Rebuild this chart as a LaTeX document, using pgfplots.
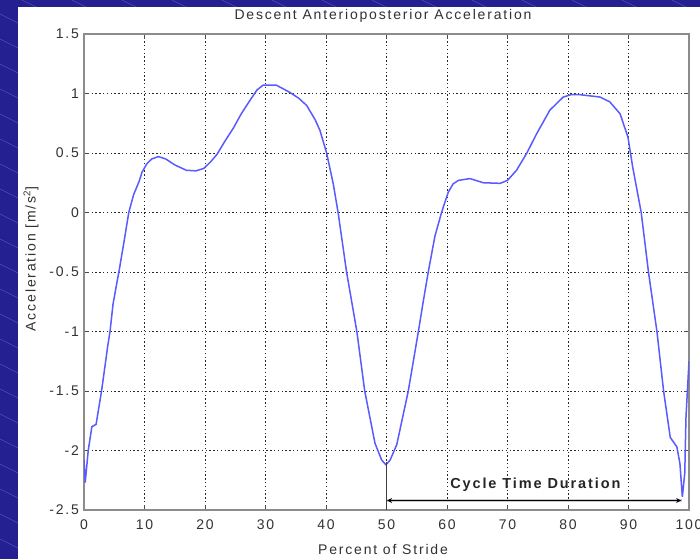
\documentclass[border=0pt]{standalone}
\usepackage{fontspec}
\setmainfont{Liberation Sans}[LetterSpace=13]
\usepackage{pgfplots}
\pgfplotsset{compat=1.18}
\usetikzlibrary{arrows.meta}
\definecolor{bgblue}{RGB}{36,32,146}
\definecolor{stripe}{RGB}{95,95,200}
\definecolor{curve}{RGB}{90,90,255}
\definecolor{txt}{RGB}{50,50,50}
\begin{document}
\begin{tikzpicture}
\useasboundingbox (0,0) rectangle (700bp,559bp);
\begin{scope}[x=1bp,y=1bp]
\fill[bgblue] (0,0) rectangle (700,559);
\begin{scope}
\clip (0,0) rectangle (18,559) (0,552) rectangle (700,559);
\foreach \i in {0,...,60} { \draw[stripe, line width=0.35bp] (-10, 25*\i) -- (1390, 25*\i-700); }
\end{scope}
\fill[white] (18,-5) rectangle (705,552);
\node[txt, font=\fontsize{14bp}{16bp}\selectfont] at (383,543) {Descent Anterioposterior Acceleration};
\node[txt, font=\fontsize{14bp}{16bp}\selectfont] at (383,10) {Percent of Stride};
\node[txt, rotate=90, font=\fontsize{14bp}{16bp}\selectfont] at (31,300) {Acceleration [m/s\textsuperscript{2}]};
\end{scope}
\begin{axis}[
  at={(84bp,49bp)}, anchor=south west,
  width=605bp, height=476bp, scale only axis,
  xmin=0, xmax=100, ymin=-2.5, ymax=1.5,
  xtick={0,10,...,100},
  xticklabels={0,10,20,30,40,50,60,70,80,90,100},
  ytick={-2.5,-2,-1.5,-1,-0.5,0,0.5,1,1.5},
  yticklabels={-2.5,-2,-1.5,-1,-0.5,0,0.5,1,1.5},
  ticklabel style={txt, font=\fontsize{14bp}{16bp}\selectfont},
  xticklabel style={yshift=-6bp},
  yticklabel style={xshift=-1.5bp},
  tick align=inside,
  major tick length=5bp,
  tick style={black!70, line width=0.9bp},
  axis line style={black!45, line width=1.4bp},
  grid=major,
  major grid style={black!85, dash pattern=on 1.4bp off 2.4bp, line width=0.75bp},
]
\addplot[curve, line width=1.5bp] coordinates {
(0,-2.08) (0.2,-2.27) (0.7,-2.0) (1.3,-1.80) (2.0,-1.78) (2.9,-1.5) (3.5,-1.28)
(3.9,-1.13) (4.3,-1.0) (4.8,-0.77) (5.4,-0.6) (5.8,-0.49) (6.6,-0.25) (7.4,0)
(8.2,0.15) (9.1,0.26) (9.6,0.34) (10.4,0.41) (11.2,0.45) (12.3,0.47) (13.5,0.45)
(15,0.40) (16.9,0.355) (18.5,0.35) (19.8,0.37) (21.0,0.43) (22,0.49) (23.3,0.60)
(24.7,0.71) (26.0,0.83) (27.4,0.94) (28.6,1.03) (29.6,1.07) (31.8,1.07) (34.0,1.01)
(35.5,0.96) (36.8,0.90) (38.2,0.78) (39.0,0.69) (40.1,0.50) (41.2,0.24) (42.0,0)
(43.4,-0.5) (45.1,-1.0) (46.4,-1.5) (48.1,-1.94) (49.2,-2.08) (49.9,-2.12)
(50.6,-2.08) (51.7,-1.95) (53.6,-1.5) (55.3,-0.99) (56.1,-0.74) (56.9,-0.5)
(58.0,-0.2) (59.1,0) (60.2,0.17) (61.0,0.24) (61.9,0.27) (63.8,0.285) (66.0,0.25)
(68.8,0.245) (70,0.27) (71.5,0.355) (73.2,0.5) (74.8,0.66) (77.0,0.86) (79.2,0.97)
(80.5,0.99) (82,0.99) (85.3,0.97) (86.9,0.93) (88.6,0.83) (89.9,0.635) (90.7,0.38)
(92.1,0) (93.3,-0.5) (94.7,-1.0) (95.8,-1.5) (96.9,-1.89) (98.0,-1.97) (98.5,-2.11)
(98.9,-2.39) (99.3,-2.19) (99.5,-1.72) (100,-1.25)
};
\draw[black!75, line width=1bp] (axis cs:50,-2.1) -- (axis cs:50,-2.5);
\draw[black!20, line width=3bp] (axis cs:50,-2.42) -- (axis cs:98.8,-2.42);
\draw[black, line width=0.9bp, {Stealth[length=5bp,width=5bp]}-{Stealth[length=5bp,width=5bp]}] (axis cs:50.1,-2.42) -- (axis cs:98.7,-2.42);
\node[black!85, font=\bfseries\fontsize{14.5bp}{17bp}\selectfont] at (axis cs:74.6,-2.29) {Cycle Time Duration};
\end{axis}
\end{tikzpicture}
\end{document}
